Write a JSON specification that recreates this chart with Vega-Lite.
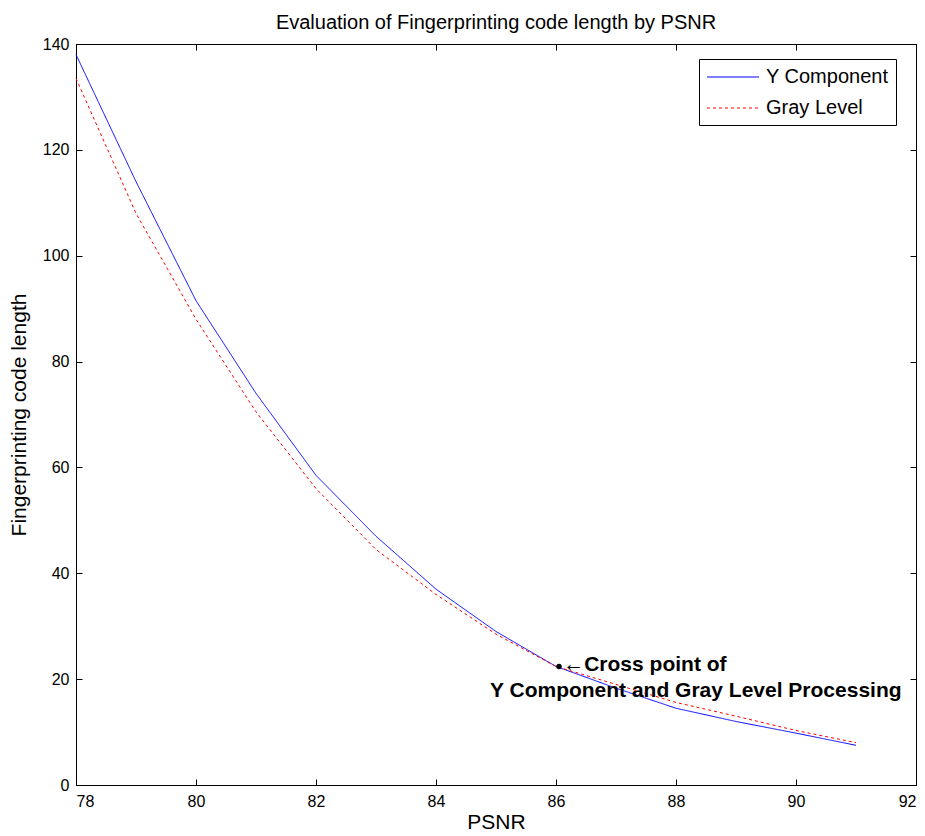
{
  "$schema": "https://vega.github.io/schema/vega-lite/v6.json",
  "width": 840,
  "height": 741,
  "autosize": "none",
  "padding": {"left": 76, "top": 44, "right": 9, "bottom": 51},
  "background": "white",
  "title": {"text": "Evaluation of Fingerprinting code length by PSNR", "fontSize": 20, "fontWeight": "normal", "font": "Liberation Sans", "color": "black", "offset": 3, "anchor": "middle"},
  "config": {
    "view": {"stroke": "black", "strokeWidth": 1},
    "axis": {"labelFont": "Liberation Sans", "labelFontSize": 16, "labelColor": "black", "tickColor": "black", "domainColor": "black", "tickSize": -6, "grid": false, "titleFont": "Liberation Sans", "titleFontSize": 21, "titleFontWeight": "normal", "titleColor": "black"}
  },
  "datasets": {
    "curves": [
      {"psnr": 78, "length": 138, "series": "Y Component"},
      {"psnr": 79, "length": 114, "series": "Y Component"},
      {"psnr": 80, "length": 91.5, "series": "Y Component"},
      {"psnr": 81, "length": 74, "series": "Y Component"},
      {"psnr": 82, "length": 58.5, "series": "Y Component"},
      {"psnr": 83, "length": 47, "series": "Y Component"},
      {"psnr": 84, "length": 37, "series": "Y Component"},
      {"psnr": 85, "length": 29, "series": "Y Component"},
      {"psnr": 86, "length": 22.4, "series": "Y Component"},
      {"psnr": 87, "length": 18.3, "series": "Y Component"},
      {"psnr": 88, "length": 14.5, "series": "Y Component"},
      {"psnr": 89, "length": 12, "series": "Y Component"},
      {"psnr": 90, "length": 9.8, "series": "Y Component"},
      {"psnr": 91, "length": 7.5, "series": "Y Component"},
      {"psnr": 78, "length": 133.5, "series": "Gray Level"},
      {"psnr": 79, "length": 108, "series": "Gray Level"},
      {"psnr": 80, "length": 88, "series": "Gray Level"},
      {"psnr": 81, "length": 70.5, "series": "Gray Level"},
      {"psnr": 82, "length": 56, "series": "Gray Level"},
      {"psnr": 83, "length": 44.5, "series": "Gray Level"},
      {"psnr": 84, "length": 36, "series": "Gray Level"},
      {"psnr": 85, "length": 28.5, "series": "Gray Level"},
      {"psnr": 86, "length": 22.4, "series": "Gray Level"},
      {"psnr": 87, "length": 19, "series": "Gray Level"},
      {"psnr": 88, "length": 15.6, "series": "Gray Level"},
      {"psnr": 89, "length": 13, "series": "Gray Level"},
      {"psnr": 90, "length": 10.3, "series": "Gray Level"},
      {"psnr": 91, "length": 8, "series": "Gray Level"}
    ],
    "cross": [{"psnr": 86.05, "length": 22.4}],
    "notes": [
      {"psnr": 86.12, "length": 22.7, "label": "←Cross point of"},
      {"psnr": 84.9, "length": 17.8, "label": "Y Component and Gray Level Processing"}
    ]
  },
  "layer": [
    {
      "data": {"name": "curves"},
      "mark": {"type": "line", "strokeWidth": 1},
      "encoding": {
        "x": {"field": "psnr", "type": "quantitative", "scale": {"domain": [78, 92], "nice": false}, "axis": {"orient": "bottom", "values": [78, 80, 82, 84, 86, 88, 90, 92], "title": "PSNR", "labelPadding": 14, "titlePadding": 2}},
        "y": {"field": "length", "type": "quantitative", "scale": {"domain": [0, 140], "nice": false, "zero": false}, "axis": {"orient": "left", "values": [0, 20, 40, 60, 80, 100, 120, 140], "title": "Fingerprinting code length", "labelPadding": 13, "titlePadding": 13}},
        "color": {"field": "series", "type": "nominal", "scale": {"domain": ["Y Component", "Gray Level"], "range": ["#0000ff", "#ff0000"]},
          "legend": {"title": null, "orient": "none", "legendX": 623, "legendY": 15, "fillColor": "white", "strokeColor": "black", "padding": 7, "labelFont": "Liberation Sans", "labelFontSize": 20, "labelColor": "black", "symbolType": "M-2.6,0H2.6", "symbolSize": 400, "symbolStrokeWidth": 1.2, "symbolOffset": 16, "labelOffset": 22, "rowPadding": 10}},
        "strokeDash": {"field": "series", "type": "nominal", "scale": {"domain": ["Y Component", "Gray Level"], "range": [[1, 0], [3, 3]]}, "legend": null}
      }
    },
    {
      "data": {"name": "curves"},
      "mark": {"type": "line", "opacity": 0},
      "encoding": {
        "x": {"field": "psnr", "type": "quantitative", "axis": {"orient": "top", "values": [78, 80, 82, 84, 86, 88, 90, 92], "labels": false, "title": null}},
        "y": {"field": "length", "type": "quantitative", "axis": {"orient": "right", "values": [0, 20, 40, 60, 80, 100, 120, 140], "labels": false, "title": null}},
        "detail": {"field": "series"}
      }
    },
    {
      "data": {"name": "cross"},
      "mark": {"type": "point", "filled": true, "color": "black", "size": 30, "opacity": 1},
      "encoding": {
        "x": {"field": "psnr", "type": "quantitative", "axis": null},
        "y": {"field": "length", "type": "quantitative", "axis": null}
      }
    },
    {
      "data": {"name": "notes"},
      "mark": {"type": "text", "align": "left", "baseline": "middle", "font": "Liberation Sans", "fontSize": 21, "fontWeight": "bold", "color": "black"},
      "encoding": {
        "x": {"field": "psnr", "type": "quantitative", "axis": null},
        "y": {"field": "length", "type": "quantitative", "axis": null},
        "text": {"field": "label"}
      }
    }
  ],
  "resolve": {"axis": {"x": "independent", "y": "independent"}}
}
